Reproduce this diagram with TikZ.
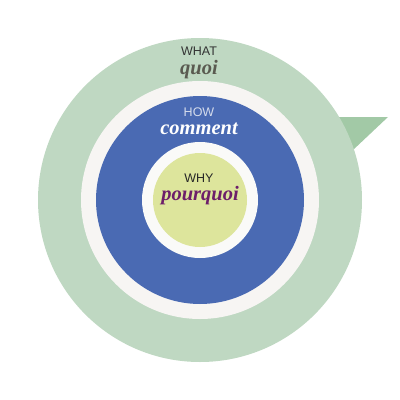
\documentclass[tikz,border=0pt]{standalone}
\usepackage{fontspec}
\setmainfont{Liberation Serif}
\setsansfont{Liberation Sans}
\definecolor{outerg}{HTML}{BFD8C2}
\definecolor{trig}{HTML}{A2C9A6}
\definecolor{ringw}{HTML}{F7F5F3}
\definecolor{bluec}{HTML}{4A6AB3}
\definecolor{innerw}{HTML}{FAFAF8}
\definecolor{yell}{HTML}{DDE59C}
\definecolor{purp}{HTML}{6D1E6A}
\definecolor{quoig}{HTML}{5A5A50}
\definecolor{howc}{HTML}{D5DCEC}
\tikzset{
  disc/.style={circle, inner sep=0pt, draw=none},
  small/.style={font=\sffamily\fontsize{12.5}{12.5}\selectfont, inner sep=0pt, anchor=base, text height=0.72em, text depth=0pt},
  big/.style={font=\rmfamily\bfseries\itshape\fontsize{20.5}{20.5}\selectfont, inner sep=0pt, anchor=base, text height=0.68em, text depth=0.2em}
}
\begin{document}
\begin{tikzpicture}[x=1pt,y=-1pt]
\useasboundingbox (0,0) rectangle (400,400);
\coordinate (t1) at (330,117);
\coordinate (t2) at (388,117);
\coordinate (t3) at (353,150);
\fill[trig] (t1) -- (t2) -- (t3) -- cycle;
\node[disc, fill=outerg, minimum size=324pt] (outer) at (200,200) {};
\node[disc, fill=ringw, minimum size=238pt] (ring) at (200,200) {};
\node[disc, fill=bluec, minimum size=208pt] (blue) at (200,200) {};
\node[disc, fill=innerw, minimum size=116pt] (inw) at (200,200) {};
\node[disc, fill=yell, minimum size=94pt] (core) at (200,200) {};
\node[small, text=black!80] (what) at (199,55) {WHAT};
\node[big, text=quoig] (quoi) at (199,74) {quoi};
\node[small, text=howc] (how) at (199,116) {HOW};
\node[big, text=white] (comment) at (199,134) {comment};
\node[small, text=black!85] (why) at (199,182) {WHY};
\node[big, text=purp] (pourquoi) at (200,200) {pourquoi};
\end{tikzpicture}
\end{document}
